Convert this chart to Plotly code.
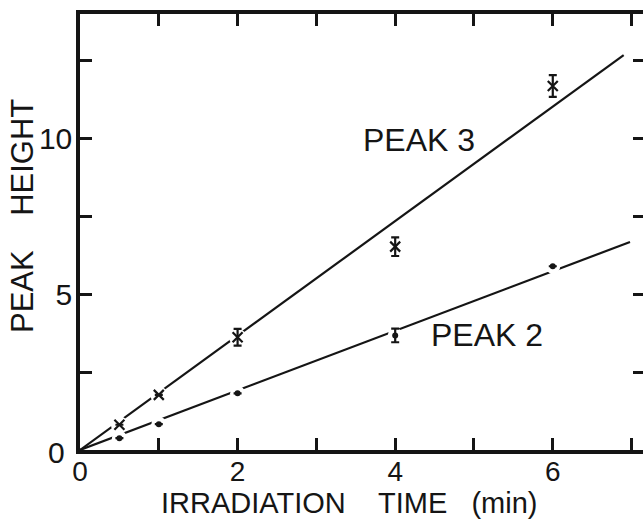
import plotly.graph_objects as go

# ---- data ----
time_min = [0.5, 1, 2, 4, 6]
peak3 = [0.81, 1.77, 3.62, 6.53, 11.69]
peak3_err = [0, 0, 0.27, 0.30, 0.35]
peak2 = [0.38, 0.83, 1.82, 3.68, 5.90]
peak2_err = [0, 0, 0, 0.22, 0]

# fitted straight lines (start / end points)
fit3_x = [0, 6.9]
fit3_y = [0, 12.68]
fit2_x = [0, 6.98]
fit2_y = [0, 6.68]

x_ticks = [0, 1, 2, 3, 4, 5, 6, 7]
x_ticktext = ["0", "", "2", "", "4", "", "6", ""]
y_ticks = [0, 2.5, 5, 7.5, 10, 12.5]
y_ticktext = ["", "", "5", "", "10", ""]

INK = "#151515"
FONT = "Liberation Sans"
NB = "\u00a0"

fig = go.Figure()

# fitted lines
fig.add_trace(go.Scatter(x=fit3_x, y=fit3_y, mode="lines",
                         line=dict(color=INK, width=2.2), hoverinfo="skip"))
fig.add_trace(go.Scatter(x=fit2_x, y=fit2_y, mode="lines",
                         line=dict(color=INK, width=2.2), hoverinfo="skip"))

# white halos that break the lines around the data points
fig.add_trace(go.Scatter(x=time_min, y=peak3, mode="markers",
                         marker=dict(symbol="circle", size=17, color="white"),
                         hoverinfo="skip"))
fig.add_trace(go.Scatter(x=time_min, y=peak2, mode="markers",
                         marker=dict(symbol="circle", size=15, color="white"),
                         hoverinfo="skip"))

# data points
fig.add_trace(go.Scatter(
    x=time_min, y=peak3, mode="markers",
    marker=dict(symbol="x-thin", size=10, line=dict(color=INK, width=2.2)),
    error_y=dict(type="data", array=peak3_err, visible=True,
                 color=INK, thickness=2.2, width=4)))
fig.add_trace(go.Scatter(
    x=time_min, y=peak2, mode="markers",
    marker=dict(symbol="circle", size=6, color=INK),
    error_y=dict(type="data", array=peak2_err, visible=True,
                 color=INK, thickness=2.2, width=4)))

# invisible trace on the right-hand tick axis
fig.add_trace(go.Scatter(x=[0], y=[0], yaxis="y2", mode="markers",
                         marker=dict(opacity=0), hoverinfo="skip"))

axis_common = dict(showgrid=False, zeroline=False, ticks="inside",
                   ticklen=12, tickwidth=2.5, tickcolor=INK)

fig.update_layout(
    width=643, height=519,
    margin=dict(l=80, r=0, t=14, b=69),
    plot_bgcolor="white", paper_bgcolor="white",
    showlegend=False,
    font=dict(family=FONT, size=30, color=INK),
    xaxis=dict(range=[0, 7.145], tickvals=x_ticks, ticktext=x_ticktext,
               showline=True, linewidth=3.5, linecolor=INK, mirror="ticks",
               ticklabelstandoff=-6,
               tickfont=dict(family=FONT, size=28, color=INK), **axis_common),
    yaxis=dict(range=[0, 14], tickvals=y_ticks, ticktext=y_ticktext,
               showline=True, linewidth=3.5, linecolor=INK, mirror=False,
               ticklabelstandoff=-2,
               tickfont=dict(family=FONT, size=30, color=INK), **axis_common),
    yaxis2=dict(range=[0, 14], overlaying="y", side="right",
                tickvals=y_ticks[1:], showticklabels=False, showline=False,
                showgrid=False, zeroline=False, ticks="inside",
                ticklen=10, tickwidth=2.5, tickcolor=INK),
)

lab = dict(family=FONT, size=32, color=INK)
annotations = [
    dict(text="PEAK 3", x=4.30, y=9.97, xref="x", yref="y", showarrow=False,
         xanchor="center", yanchor="middle", font=lab),
    dict(text="PEAK 2", x=5.16, y=3.68, xref="x", yref="y", showarrow=False,
         xanchor="center", yanchor="middle", font=lab),
    dict(text="PEAK" + NB * 4 + "HEIGHT", x=-0.101, y=0.537, xref="paper", yref="paper",
         showarrow=False, textangle=-90, xanchor="center", yanchor="middle",
         font=dict(family=FONT, size=31, color=INK)),
    dict(text="IRRADIATION" + NB * 4 + "TIME" + NB * 3 + "(min)", x=0.477, y=-0.122,
         xref="paper", yref="paper", showarrow=False,
         xanchor="center", yanchor="middle",
         font=dict(family=FONT, size=29, color=INK)),
    dict(text="0", x=-0.0426, y=-0.005, xref="paper", yref="paper",
         showarrow=False, xanchor="center", yanchor="middle",
         font=dict(family=FONT, size=30, color=INK)),
]
fig.update_layout(annotations=annotations)

fig.write_html("out.html")
